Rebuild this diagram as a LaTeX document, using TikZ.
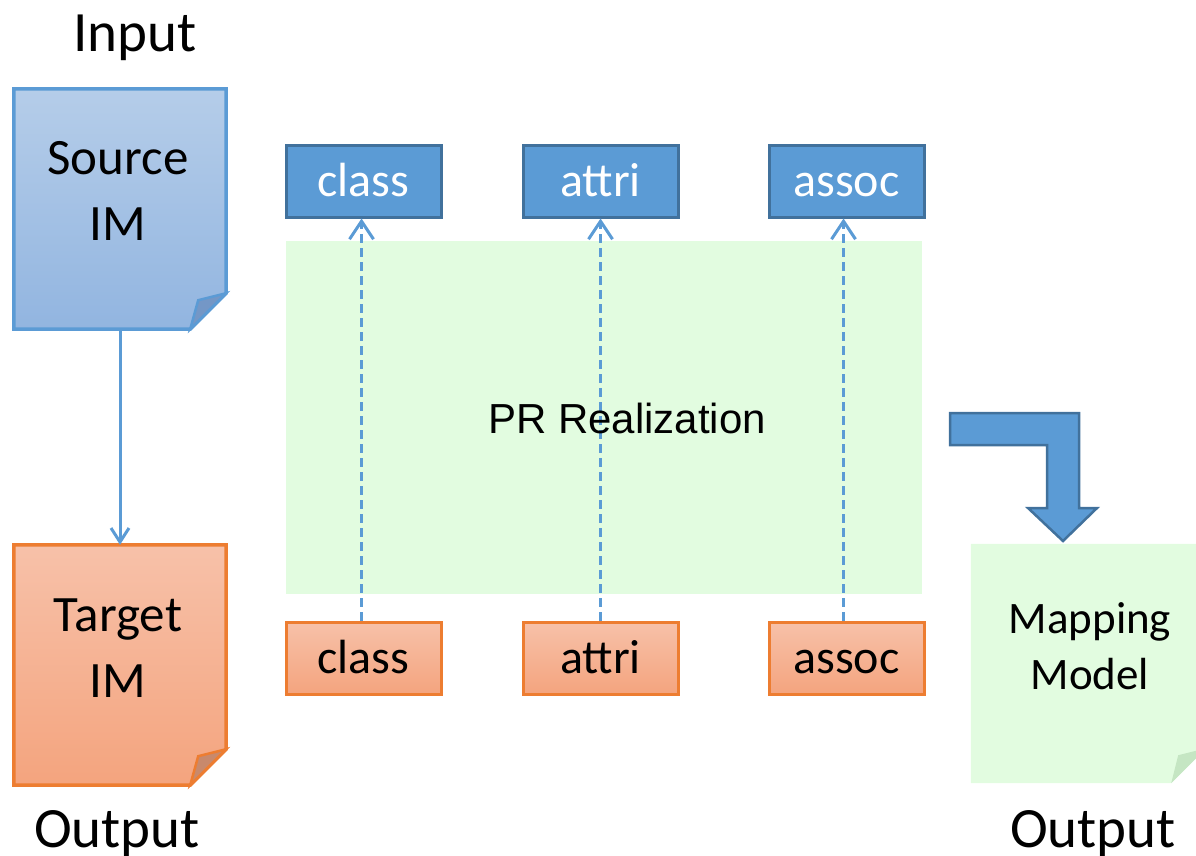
\documentclass[tikz,border=0pt]{standalone}
\usepackage{fontspec}
\setmainfont{Carlito}
\newfontfamily\arialfont{Liberation Sans}
\usetikzlibrary{arrows.meta,backgrounds}

\definecolor{blueline}{HTML}{5B9BD5}
\definecolor{bluedark}{HTML}{41719C}
\definecolor{srctop}{HTML}{B5CDE9}
\definecolor{srcbot}{HTML}{92B5E0}
\definecolor{srcfold}{HTML}{7497C6}
\definecolor{orangeline}{HTML}{ED7D31}
\definecolor{tgttop}{HTML}{F7C1A9}
\definecolor{tgtbot}{HTML}{F4A47E}
\definecolor{tgtfold}{HTML}{C8896C}
\definecolor{palegreen}{HTML}{E2FCE0}
\definecolor{foldgreen}{HTML}{C5E6C3}

\tikzset{
  docbox/.style={minimum width=212pt, minimum height=240pt, inner sep=0pt},
  doctext/.style={align=center, font=\fontsize{51}{66}\selectfont},
  headtext/.style={font=\fontsize{57}{60}\selectfont, anchor=base},
  elembox/.style={minimum width=155pt, minimum height=72pt, inner sep=0pt,
    text height=33pt, text depth=2pt, line width=3pt,
    font=\fontsize{48}{50}\selectfont},
  srcelem/.style={elembox, fill=blueline, draw=bluedark, text=white},
  tgtelem/.style={elembox, top color=tgttop, bottom color=tgtbot, draw=orangeline},
  realize/.style={->, blueline, line width=3pt, dash pattern=on 9pt off 5pt,
    >={Straight Barb[length=18pt,width=24pt]}}
}

\begin{document}
\begin{tikzpicture}[x=1pt,y=-1pt]
  \useasboundingbox (0,0) rectangle (1196,856);
  \clip (0,0) rectangle (1196,856);

  % input / output documents
  \node[docbox] (src) at (120,209) {};
  \node[doctext] (srctxt) at (118,191) {Source\\IM};
  \node[docbox] (tgt) at (120,665) {};
  \node[doctext] (tgttxt) at (118,648) {Target\\IM};
  \node[docbox, minimum width=235pt, minimum height=239pt] (map) at (1088.5,663.5) {};
  \node[doctext, font=\fontsize{45}{56}\selectfont] (maptxt) at (1090,646) {Mapping\\Model};

  \begin{scope}[on background layer]
    \shadedraw[top color=srctop, bottom color=srcbot, draw=blueline, line width=3.5pt]
      (src.north west) -- (src.north east) -- ([yshift=36pt]src.south east)
      -- ([xshift=-36pt]src.south east) -- (src.south west) -- cycle;
    \filldraw[fill=srcfold, draw=blueline, line width=2.5pt]
      ([xshift=-36pt]src.south east) -- ([xshift=-28pt,yshift=29pt]src.south east)
      -- ([yshift=36pt]src.south east) -- cycle;
    \shadedraw[top color=tgttop, bottom color=tgtbot, draw=orangeline, line width=3.5pt]
      (tgt.north west) -- (tgt.north east) -- ([yshift=36pt]tgt.south east)
      -- ([xshift=-36pt]tgt.south east) -- (tgt.south west) -- cycle;
    \filldraw[fill=tgtfold, draw=orangeline, line width=2.5pt]
      ([xshift=-36pt]tgt.south east) -- ([xshift=-28pt,yshift=29pt]tgt.south east)
      -- ([yshift=36pt]tgt.south east) -- cycle;
    \fill[palegreen]
      (map.north west) -- (map.north east) -- ([yshift=35pt]map.south east)
      -- ([xshift=-35pt]map.south east) -- (map.south west) -- cycle;
    \fill[foldgreen]
      ([xshift=-35pt]map.south east) -- ([xshift=-28pt,yshift=28pt]map.south east)
      -- ([yshift=35pt]map.south east) -- cycle;
  \end{scope}

  \draw[->, blueline, line width=3pt, >={Straight Barb[length=14pt,width=18pt]}]
    (src.south) -- (tgt.north);

  \node[headtext] (inlbl) at (135,52) {Input};
  \node[headtext] (outlbl) at (117,847) {Output};
  \node[headtext] (maplbl) at (1093,847) {Output};

  % PR realization
  \node[fill=palegreen, minimum width=636pt, minimum height=353pt, inner sep=0pt]
    (pr) at (604,417.5) {};

  \node[srcelem] (cls1) at (363.5,181) {class};
  \node[srcelem] (att1) at (600.5,181) {attri};
  \node[srcelem] (asc1) at (846.5,181) {assoc};
  \node[tgtelem] (cls2) at (363.5,658) {class};
  \node[tgtelem] (att2) at (600.5,658) {attri};
  \node[tgtelem] (asc2) at (846.5,658) {assoc};

  \draw[realize] ([xshift=-2pt]cls2.north) -- ([xshift=-2pt]cls1.south);
  \draw[realize] (att2.north) -- (att1.south);
  \draw[realize] ([xshift=-3pt]asc2.north) -- ([xshift=-3pt]asc1.south);

  \node[font=\arialfont\fontsize{42}{44}\selectfont, anchor=base] (prtxt) at (627,433) {PR Realization};

  % bent arrow to the mapping model
  \filldraw[fill=blueline, draw=bluedark, line width=2.5pt]
    (950,413) -- (1079,413) -- (1079,508) -- (1097,508) -- (1063,541)
    -- (1028,508) -- (1047,508) -- (1047,445) -- (950,445) -- cycle;
\end{tikzpicture}
\end{document}
